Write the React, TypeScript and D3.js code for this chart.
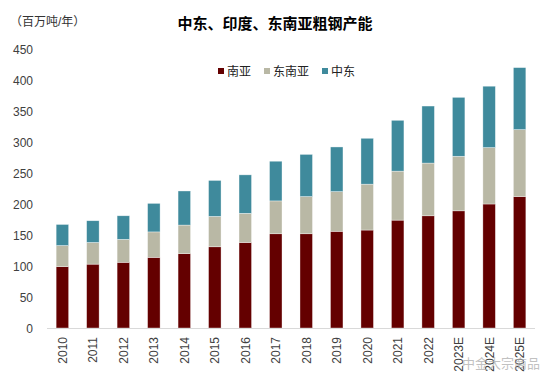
import { useEffect, useRef } from 'react'
import * as d3 from 'd3'

const years = ['2010', '2011', '2012', '2013', '2014', '2015', '2016', '2017', '2018', '2019', '2020', '2021', '2022', '2023E', '2024E', '2025E']
const southAsia = [99, 103, 106, 114, 120, 131, 138, 152, 152, 156, 158, 174, 181, 189, 200, 212]
const southeastAsia = [34, 35, 37, 41, 46, 49, 47, 53, 60, 64, 74, 79, 85, 88, 91, 108]
const middleEast = [34, 35, 38, 46, 55, 58, 62, 64, 68, 72, 74, 82, 92, 95, 99, 100]
const yTicks = [0, 50, 100, 150, 200, 250, 300, 350, 400, 450]

const seriesNames = ['南亚', '东南亚', '中东']
const seriesColours = ['#640000', '#b9b8a5', '#3f8a9c']

const W = 550
const H = 384
const FONT = 'Arial, "Liberation Sans", "Noto Sans CJK SC", sans-serif'

function App() {
  const svgRef = useRef<SVGSVGElement | null>(null)

  useEffect(() => {
    const svg = d3.select(svgRef.current)
    svg.selectAll('*').remove()

    const x = d3.scaleBand<string>().domain(years).range([47, 535]).paddingInner(0.59).paddingOuter(0.3)
    const y = d3.scaleLinear().domain([0, 450]).range([328, 49])

    // stack the three series
    const rows = years.map((yr, i) => ({ year: yr, s0: southAsia[i], s1: southeastAsia[i], s2: middleEast[i] }))
    const stacked = d3.stack<any>().keys(['s0', 's1', 's2'])(rows)

    // title + unit
    svg.append('text')
      .attr('x', 275).attr('y', 29)
      .attr('text-anchor', 'middle')
      .attr('font-family', FONT)
      .attr('font-size', 15).attr('font-weight', 'bold')
      .attr('fill', '#000')
      .text('中东、印度、东南亚粗钢产能')

    svg.append('text')
      .attr('x', 10).attr('y', 26)
      .attr('font-family', FONT)
      .attr('font-size', 12)
      .attr('fill', '#333')
      .text('（百万吨/年）')

    // bars
    const layers = svg.append('g')
    stacked.forEach((layer, li) => {
      layers.append('g')
        .selectAll('rect')
        .data(layer)
        .join('rect')
        .attr('x', d => x(d.data.year) as number)
        .attr('width', x.bandwidth())
        .attr('y', d => y(d[1]))
        .attr('height', d => y(d[0]) - y(d[1]))
        .attr('fill', seriesColours[li])
        .attr('stroke', '#ffffff')
        .attr('stroke-opacity', 0.6)
        .attr('stroke-width', 0.6)
    })

    // axis line
    svg.append('line')
      .attr('x1', 47).attr('x2', 535)
      .attr('y1', y(0) + 0.5).attr('y2', y(0) + 0.5)
      .attr('stroke', '#d9d9d9').attr('stroke-width', 1)

    // y tick labels
    svg.append('g')
      .selectAll('text')
      .data(yTicks)
      .join('text')
      .attr('x', 33)
      .attr('y', d => y(d) + 4.5)
      .attr('text-anchor', 'end')
      .attr('font-family', FONT)
      .attr('font-size', 12)
      .attr('fill', '#404040')
      .text(d => d)

    // x tick labels, rotated
    svg.append('g')
      .selectAll('text')
      .data(years)
      .join('text')
      .attr('transform', d => `translate(${(x(d) as number) + x.bandwidth() / 2 + 4.5},337) rotate(-90)`)
      .attr('text-anchor', 'end')
      .attr('font-family', FONT)
      .attr('font-size', 12)
      .attr('fill', '#404040')
      .text(d => d)

    // legend
    const legendX = [218, 264, 322]
    const lg = svg.append('g')
    seriesNames.forEach((name, i) => {
      lg.append('rect')
        .attr('x', legendX[i]).attr('y', 68)
        .attr('width', 6).attr('height', 6)
        .attr('fill', seriesColours[i])
      lg.append('text')
        .attr('x', legendX[i] + 9).attr('y', 76)
        .attr('font-family', FONT)
        .attr('font-size', 12)
        .attr('fill', '#222')
        .text(name)
    })

    // faint watermark
    svg.append('text')
      .attr('x', 540).attr('y', 368)
      .attr('text-anchor', 'end')
      .attr('font-family', FONT)
      .attr('font-size', 13)
      .attr('fill', '#b0b0b0')
      .attr('fill-opacity', 0.8)
      .text('中金大宗商品')
  }, [])

  return (
    <svg
      ref={svgRef}
      width={W}
      height={H}
      style={{ position: 'absolute', left: 0, top: 0, background: '#fff' }}
    />
  )
}

export default App
